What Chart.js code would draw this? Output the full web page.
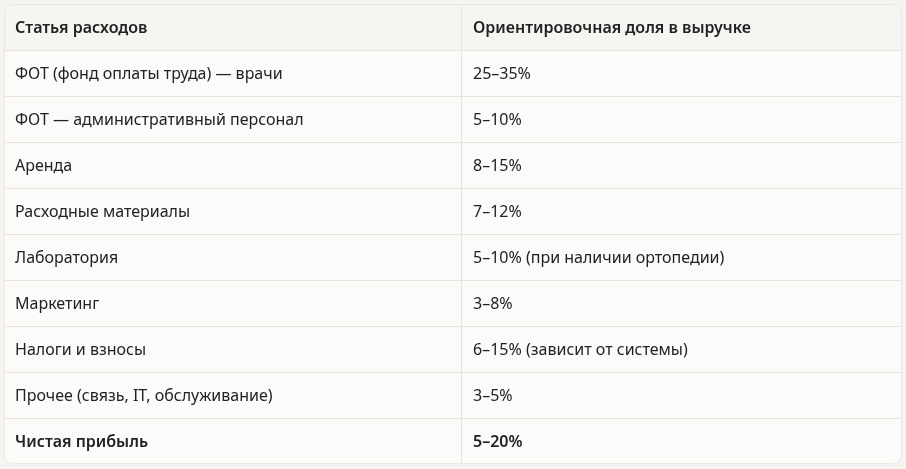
<!DOCTYPE html>
<html><head><meta charset="utf-8">
<script src="https://cdn.jsdelivr.net/npm/chart.js@4.4.0/dist/chart.umd.min.js"></script>
<style>
html,body{margin:0;padding:0;background:#f5f4f1;}
#wrap{position:absolute;left:4px;top:4px;width:898px;height:460px;}
</style></head><body>
<div id="wrap"><canvas id="tbl"></canvas></div>
<script>
// table content
var headers = ['Статья расходов', 'Ориентировочная доля в выручке'];
var items = ['ФОТ (фонд оплаты труда) — врачи', 'ФОТ — административный персонал', 'Аренда', 'Расходные материалы', 'Лаборатория', 'Маркетинг', 'Налоги и взносы', 'Прочее (связь, IT, обслуживание)', 'Чистая прибыль'];
var shares = ['25–35%', '5–10%', '8–15%', '7–12%', '5–10% (при наличии ортопедии)', '3–8%', '6–15% (зависит от системы)', '3–5%', '5–20%'];
var boldRows = [8];

var rowLabels = [headers[0]].concat(items);

var tablePlugin = {
	id: 'tablePlugin',
	beforeDraw: function(chart){
		var ctx = chart.ctx;
		var y = chart.scales.y;
		var w = chart.width, h = chart.height;
		var rowH = h / rowLabels.length;
		var colX = 457;
		ctx.save();
		// body
		ctx.beginPath();
		ctx.roundRect(0.5, 0.5, w - 1, h - 1, 8);
		ctx.fillStyle = '#fcfbf9';
		ctx.fill();
		ctx.clip();
		// header bg
		ctx.fillStyle = '#f7f5f2';
		ctx.fillRect(0, 0, w, rowH);
		ctx.strokeStyle = '#e7e4df';
		ctx.lineWidth = 1;
		for (var i = 1; i < rowLabels.length; i++){
			var yy = Math.round(y.getPixelForValue(i) - rowH / 2) + 0.5;
			ctx.beginPath(); ctx.moveTo(0, yy); ctx.lineTo(w, yy); ctx.stroke();
		}
		ctx.beginPath(); ctx.moveTo(colX + 0.5, 0); ctx.lineTo(colX + 0.5, h); ctx.stroke();
		ctx.restore();
		ctx.save();
		ctx.beginPath();
		ctx.roundRect(0.5, 0.5, w - 1, h - 1, 8);
		ctx.strokeStyle = '#ebe8e3';
		ctx.stroke();
		// text
		ctx.fillStyle = '#222';
		ctx.textBaseline = 'middle';
		for (var r = 0; r < rowLabels.length; r++){
			var cy = y.getPixelForValue(r) + 1;
			var bold = r === 0 || boldRows.indexOf(r - 1) >= 0;
			ctx.font = (bold ? '600 ' : '400 ') + '16px "Noto Sans", "Open Sans", sans-serif';
			ctx.fillText(r === 0 ? headers[0] : items[r - 1], 11, cy);
			ctx.fillText(r === 0 ? headers[1] : shares[r - 1], colX + 12, cy);
		}
		ctx.restore();
	}
};

new Chart(document.getElementById('tbl'), {
	type: 'bar',
	data: {
		labels: rowLabels,
		datasets: [{ data: rowLabels.map(function(){ return 0; }) }]
	},
	options: {
		indexAxis: 'y',
		animation: false,
		responsive: true,
		maintainAspectRatio: false,
		layout: { padding: 0 },
		plugins: { legend: { display: false }, tooltip: { enabled: false } },
		scales: {
			x: { display: false, min: 0, max: 1 },
			y: { display: false }
		}
	},
	plugins: [tablePlugin]
});
</script>
</body></html>
